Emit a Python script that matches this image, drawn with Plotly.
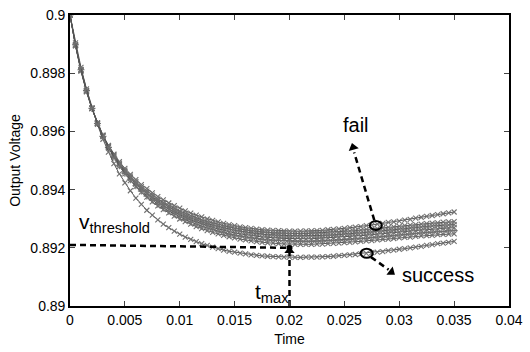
import plotly.graph_objects as go

# Sample times (s)
time = [0.0, 0.0005, 0.001, 0.0015, 0.002, 0.0025, 0.003, 0.0035, 0.004, 0.0045,
        0.005, 0.0055, 0.006, 0.0065, 0.007, 0.0075, 0.008, 0.0085, 0.009, 0.0095,
        0.01, 0.0105, 0.011, 0.0115, 0.012, 0.0125, 0.013, 0.0135, 0.014, 0.0145,
        0.015, 0.0155, 0.016, 0.0165, 0.017, 0.0175, 0.018, 0.0185, 0.019, 0.0195,
        0.02, 0.0205, 0.021, 0.0215, 0.022, 0.0225, 0.023, 0.0235, 0.024, 0.0245,
        0.025, 0.0255, 0.026, 0.0265, 0.027, 0.0275, 0.028, 0.0285, 0.029, 0.0295,
        0.03, 0.0305, 0.031, 0.0315, 0.032, 0.0325, 0.033, 0.0335, 0.034, 0.0345,
        0.035]

# Output voltage of each simulated run (V)
run1 = [0.9, 0.89894, 0.89807, 0.89736, 0.89678, 0.89629, 0.89587, 0.89552, 0.89522, 0.89496,
        0.89473, 0.89452, 0.89434, 0.89417, 0.89403, 0.89389, 0.89376, 0.89365, 0.89354, 0.89345,
        0.89336, 0.89327, 0.89319, 0.89312, 0.89306, 0.89299, 0.89294, 0.89289, 0.89284, 0.89280,
        0.89276, 0.89272, 0.89269, 0.89267, 0.89264, 0.89262, 0.89261, 0.89260, 0.89259, 0.89258,
        0.89257, 0.89257, 0.89257, 0.89258, 0.89258, 0.89259, 0.89260, 0.89262, 0.89263, 0.89265,
        0.89267, 0.89269, 0.89271, 0.89273, 0.89276, 0.89278, 0.89281, 0.89284, 0.89287, 0.89289,
        0.89292, 0.89295, 0.89298, 0.89302, 0.89305, 0.89308, 0.89311, 0.89314, 0.89317, 0.89320,
        0.89323]
run2 = [0.9, 0.89895, 0.89809, 0.89738, 0.89679, 0.89629, 0.89586, 0.89550, 0.89519, 0.89491,
        0.89467, 0.89446, 0.89427, 0.89410, 0.89395, 0.89381, 0.89368, 0.89356, 0.89345, 0.89336,
        0.89326, 0.89318, 0.89310, 0.89303, 0.89296, 0.89290, 0.89285, 0.89280, 0.89275, 0.89271,
        0.89267, 0.89264, 0.89261, 0.89258, 0.89256, 0.89254, 0.89253, 0.89251, 0.89250, 0.89250,
        0.89249, 0.89249, 0.89249, 0.89249, 0.89250, 0.89250, 0.89251, 0.89252, 0.89253, 0.89254,
        0.89256, 0.89257, 0.89259, 0.89261, 0.89263, 0.89264, 0.89266, 0.89268, 0.89270, 0.89272,
        0.89274, 0.89276, 0.89278, 0.89280, 0.89281, 0.89283, 0.89285, 0.89286, 0.89288, 0.89289,
        0.89290]
run3 = [0.9, 0.89896, 0.89811, 0.89739, 0.89679, 0.89628, 0.89585, 0.89548, 0.89516, 0.89488,
        0.89463, 0.89441, 0.89422, 0.89404, 0.89389, 0.89374, 0.89362, 0.89350, 0.89339, 0.89329,
        0.89320, 0.89311, 0.89303, 0.89296, 0.89289, 0.89283, 0.89278, 0.89273, 0.89268, 0.89264,
        0.89260, 0.89257, 0.89254, 0.89251, 0.89249, 0.89247, 0.89245, 0.89244, 0.89242, 0.89242,
        0.89241, 0.89241, 0.89241, 0.89241, 0.89241, 0.89242, 0.89242, 0.89243, 0.89244, 0.89246,
        0.89247, 0.89248, 0.89250, 0.89251, 0.89253, 0.89255, 0.89257, 0.89258, 0.89260, 0.89262,
        0.89264, 0.89266, 0.89268, 0.89270, 0.89271, 0.89273, 0.89275, 0.89276, 0.89277, 0.89279,
        0.89280]
run4 = [0.9, 0.89897, 0.89811, 0.89739, 0.89679, 0.89628, 0.89584, 0.89547, 0.89514, 0.89486,
        0.89461, 0.89439, 0.89419, 0.89401, 0.89385, 0.89370, 0.89357, 0.89344, 0.89333, 0.89323,
        0.89313, 0.89305, 0.89296, 0.89289, 0.89282, 0.89276, 0.89270, 0.89265, 0.89260, 0.89255,
        0.89251, 0.89248, 0.89245, 0.89242, 0.89239, 0.89237, 0.89236, 0.89234, 0.89233, 0.89232,
        0.89232, 0.89231, 0.89231, 0.89231, 0.89231, 0.89232, 0.89233, 0.89234, 0.89235, 0.89236,
        0.89237, 0.89238, 0.89240, 0.89241, 0.89243, 0.89245, 0.89247, 0.89248, 0.89250, 0.89252,
        0.89254, 0.89256, 0.89257, 0.89259, 0.89261, 0.89262, 0.89264, 0.89265, 0.89267, 0.89268,
        0.89269]
run5 = [0.9, 0.89898, 0.89812, 0.89740, 0.89679, 0.89627, 0.89583, 0.89545, 0.89511, 0.89482,
        0.89456, 0.89434, 0.89413, 0.89395, 0.89378, 0.89364, 0.89350, 0.89337, 0.89326, 0.89316,
        0.89306, 0.89297, 0.89289, 0.89281, 0.89274, 0.89268, 0.89262, 0.89257, 0.89252, 0.89247,
        0.89243, 0.89240, 0.89237, 0.89234, 0.89231, 0.89229, 0.89227, 0.89226, 0.89225, 0.89224,
        0.89223, 0.89222, 0.89222, 0.89222, 0.89222, 0.89223, 0.89223, 0.89224, 0.89225, 0.89226,
        0.89227, 0.89229, 0.89230, 0.89232, 0.89233, 0.89235, 0.89237, 0.89238, 0.89240, 0.89242,
        0.89244, 0.89245, 0.89247, 0.89249, 0.89251, 0.89252, 0.89254, 0.89255, 0.89256, 0.89258,
        0.89259]
run6 = [0.9, 0.89898, 0.89813, 0.89741, 0.89679, 0.89627, 0.89582, 0.89544, 0.89510, 0.89480,
        0.89454, 0.89431, 0.89410, 0.89391, 0.89374, 0.89358, 0.89344, 0.89331, 0.89320, 0.89309,
        0.89299, 0.89290, 0.89281, 0.89273, 0.89266, 0.89259, 0.89253, 0.89248, 0.89243, 0.89238,
        0.89234, 0.89230, 0.89227, 0.89224, 0.89221, 0.89219, 0.89217, 0.89216, 0.89214, 0.89213,
        0.89213, 0.89212, 0.89212, 0.89212, 0.89212, 0.89213, 0.89213, 0.89214, 0.89215, 0.89216,
        0.89218, 0.89219, 0.89220, 0.89222, 0.89224, 0.89225, 0.89227, 0.89229, 0.89230, 0.89232,
        0.89234, 0.89236, 0.89237, 0.89239, 0.89241, 0.89242, 0.89243, 0.89245, 0.89246, 0.89247,
        0.89248]
run7 = [0.9, 0.89904, 0.89820, 0.89746, 0.89681, 0.89624, 0.89573, 0.89529, 0.89489, 0.89454,
        0.89423, 0.89396, 0.89371, 0.89349, 0.89329, 0.89312, 0.89296, 0.89281, 0.89269, 0.89257,
        0.89247, 0.89237, 0.89229, 0.89221, 0.89214, 0.89208, 0.89202, 0.89197, 0.89192, 0.89188,
        0.89185, 0.89182, 0.89179, 0.89176, 0.89174, 0.89172, 0.89171, 0.89170, 0.89169, 0.89168,
        0.89168, 0.89167, 0.89167, 0.89168, 0.89168, 0.89168, 0.89169, 0.89170, 0.89171, 0.89173,
        0.89174, 0.89176, 0.89177, 0.89179, 0.89181, 0.89183, 0.89185, 0.89187, 0.89190, 0.89192,
        0.89195, 0.89197, 0.89200, 0.89202, 0.89205, 0.89208, 0.89211, 0.89214, 0.89216, 0.89219,
        0.89222]
runs = [run1, run2, run3, run4, run5, run6, run7]
run_markers = ["x-thin", "x-thin", "x-thin", "x-thin", "cross-thin", "x-thin", "x-thin"]

# Threshold level and the time at which it is reached
thr_x, thr_y = [0, 0.0199], [0.89210, 0.89200]
t_max, v_at_tmax = 0.02, 0.89199
tmax_x, tmax_y = [t_max, t_max], [0.89, 0.89185]

# Pointer lines to the "fail" and "success" runs
fail_x, fail_y = [0.02773, 0.02589], [0.89294, 0.89528]
succ_x, succ_y = [0.02742, 0.02903], [0.89168, 0.89125]
head_x = [t_max, 0.02580, 0.02928]
head_y = [0.89190, 0.89545, 0.89117]
head_angle = [0, -15.7, 127]
ring_pts = [(0.02787, 0.89277), (0.02703, 0.89181)]

fig = go.Figure()
for v, sym in zip(runs, run_markers):
    fig.add_trace(go.Scatter(
        x=time, y=v, mode="lines+markers",
        line=dict(color="#555555", width=1),
        marker=dict(symbol=sym, size=5, line=dict(color="#707070", width=1.1)),
        showlegend=False, hoverinfo="skip"))

dash = dict(color="black", width=2.5, dash="6px,4px")
for xs, ys in [(thr_x, thr_y), (tmax_x, tmax_y), (fail_x, fail_y), (succ_x, succ_y)]:
    fig.add_trace(go.Scatter(x=xs, y=ys, mode="lines", line=dash,
                             showlegend=False, hoverinfo="skip"))

fig.add_trace(go.Scatter(x=head_x, y=head_y, mode="markers",
                         marker=dict(symbol="triangle-up", size=9, angle=head_angle, color="black"),
                         showlegend=False, hoverinfo="skip"))
fig.add_trace(go.Scatter(x=[t_max], y=[v_at_tmax], mode="markers",
                         marker=dict(symbol="circle", size=6, color="black"),
                         showlegend=False, hoverinfo="skip"))

for cx, cy in ring_pts:
    fig.add_shape(type="circle", xref="x", yref="y", xsizemode="pixel", ysizemode="pixel",
                  xanchor=cx, yanchor=cy, x0=-6, x1=6, y0=-4.5, y1=4.5,
                  line=dict(color="black", width=2))

fig.add_annotation(x=0.02602, y=0.89623, text="fail", showarrow=False, font=dict(size=20))
fig.add_annotation(x=0.03353, y=0.89106, text="success", showarrow=False, font=dict(size=20))
fig.add_annotation(x=0.0006, y=0.89284, text="v<sub>threshold</sub>", showarrow=False,
                   xanchor="left", yanchor="middle", font=dict(size=21))
fig.add_annotation(x=0.01663, y=0.89043, text="t<sub>max</sub>", showarrow=False,
                   xanchor="left", yanchor="middle", font=dict(size=21))

fig.update_layout(
    width=530, height=352, margin=dict(l=70, r=15, t=7, b=42),
    paper_bgcolor="white", plot_bgcolor="white",
    font=dict(family="Liberation Sans, Arial", size=14, color="black"),
)
fig.update_xaxes(range=[0, 0.04], dtick=0.005, showline=True, mirror="ticks",
                 linecolor="black", linewidth=1.6, ticks="inside", ticklen=5, tickwidth=1,
                 showgrid=False, zeroline=False,
                 title=dict(text="Time", font=dict(size=14), standoff=8))
fig.update_yaxes(range=[0.89, 0.9], dtick=0.002, showline=True, mirror="ticks",
                 linecolor="black", linewidth=1.6, ticks="inside", ticklen=5, tickwidth=1,
                 showgrid=False, zeroline=False,
                 title=dict(text="Output Voltage", font=dict(size=14), standoff=6))
fig.write_html("out.html")
